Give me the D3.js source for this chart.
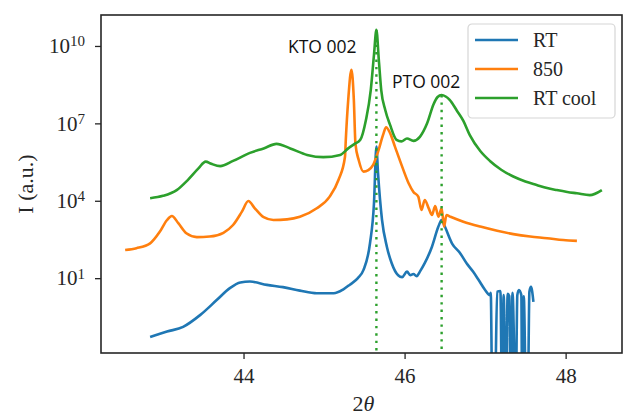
<!DOCTYPE html>
<html>
<head>
<meta charset="utf-8">
<script src="https://cdn.jsdelivr.net/npm/d3@7"></script>
<style>
  body { margin: 0; background: #fff; }
  svg text { font-family: "Liberation Serif", "DejaVu Serif", serif; fill: #262626; }
  svg text.note { font-family: "Open Sans", "Noto Sans", sans-serif; fill: #111; }
</style>
</head>
<body>
<script>

// --- data (2theta in degrees, intensity in a.u.) ---

var rtAngle = [42.84, 43.05, 43.25, 43.46, 43.67, 43.83, 43.96, 44.08, 44.29, 44.49,
  44.70, 44.91, 45.12, 45.24, 45.32, 45.42, 45.49, 45.57, 45.62, 45.65, 45.67,
  45.72, 45.78, 45.84, 45.92, 45.97, 46.03, 46.07, 46.11, 46.15, 46.19,
  46.25, 46.34, 46.42, 46.46, 46.50, 46.59, 46.69, 46.77, 46.85, 46.92,
  47.00, 47.06, 47.07, 47.09, 47.12, 47.15, 47.19, 47.21, 47.23, 47.26,
  47.28, 47.30, 47.32, 47.34, 47.38, 47.40, 47.42, 47.45, 47.46, 47.48,
  47.51, 47.53, 47.55, 47.57, 47.60];
var rtIntensity = [0.052, 0.085, 0.13, 0.37, 1.45, 4.1, 6.8, 7.4, 5.5, 4.5,
  3.3, 2.6, 2.6, 3.7, 5.6, 10, 21, 220, 8000, 1.26e6, 1.2e5,
  1800, 166, 38, 13, 11, 18, 13, 14.5, 12, 18,
  38, 166, 1000, 1800, 1000, 220, 93, 38, 18, 8.5,
  3.5, 2.2, 2.7, 0, 0, 3.0, 3.2, 0, 2.2, 0,
  2.5, 2.0, 0, 2.7, 0, 2.2, 3.5, 2.2, 0, 2.0,
  0, 0, 3.0, 4.6, 1.2];

var hotAngle = [42.53, 42.67, 42.84, 42.96, 43.05, 43.11, 43.19, 43.29, 43.42, 43.58,
  43.75, 43.87, 43.98, 44.06, 44.14, 44.25, 44.37, 44.54, 44.70, 44.91,
  45.07, 45.18, 45.26, 45.27, 45.30, 45.34, 45.37, 45.39, 45.43, 45.49,
  45.55, 45.61, 45.67, 45.74, 45.77, 45.82, 45.88, 45.97, 46.05, 46.11,
  46.17, 46.21, 46.25, 46.30, 46.34, 46.38, 46.42, 46.46, 46.49, 46.52,
  46.57, 46.73, 46.94, 47.15, 47.35, 47.56, 47.77, 47.97, 48.14];
var hotIntensity = [123, 145, 224, 630, 1800, 2570, 1350, 550, 390, 410,
  575, 1150, 3800, 9800, 5100, 2300, 1800, 1900, 2400, 5100,
  1.45e4, 6.5e4, 5.1e5, 2.3e6, 8e7, 1.2e9, 8e7, 1.6e6, 3.8e5, 1.35e5,
  1.55e5, 2.45e5, 7.9e5, 4.2e6, 7.1e6, 4.2e6, 1.26e6, 2.1e5, 4.8e4, 2.2e4,
  1.45e4, 4400, 1.07e4, 5100, 2800, 6300, 2400, 5100, 1000, 2800,
  2400, 1550, 1000, 690, 510, 410, 355, 300, 280];

var coolAngle = [42.84, 43.00, 43.17, 43.31, 43.44, 43.53, 43.60, 43.71, 43.87, 44.08,
  44.25, 44.41, 44.58, 44.79, 44.99, 45.20, 45.30, 45.38, 45.45, 45.52, 45.58,
  45.62, 45.65, 45.68, 45.71, 45.76, 45.82, 45.90, 45.96, 46.03, 46.11,
  46.19, 46.28, 46.36, 46.41, 46.46, 46.51, 46.56, 46.65, 46.73, 46.81, 46.94, 47.06,
  47.20, 47.35, 47.50, 47.64, 47.77, 47.89, 48.02, 48.14, 48.30, 48.45];
var coolIntensity = [1.26e4, 1.55e4, 2.6e4, 6.5e4, 1.8e5, 3.3e5, 2.7e5, 2.2e5, 3.5e5, 7.2e5,
  1.07e6, 1.6e6, 1.07e6, 6e5, 4.9e5, 6e5, 1.07e6, 1.6e6, 2.3e6, 1.35e7, 1.95e8,
  4.5e9, 4.2e10, 2.9e9, 1.95e8, 3.3e7, 8.7e6, 2.3e6, 2.0e6, 2.6e6, 2.1e6,
  3e6, 1e7, 5.5e7, 1.05e8, 1.26e8, 1.1e8, 8.1e7, 3.1e7, 1.26e7, 3.5e6, 8.5e5, 3.5e5,
  1.6e5, 8.7e4, 5.6e4, 4.1e4, 3.1e4, 2.6e4, 2.2e4, 1.95e4, 1.66e4, 2.6e4];

var seriesNames = ["RT", "850", "RT cool"];
var peakAngles = [45.65, 46.46];
var peakLabels = ["KTO 002", "PTO 002"];
var xTicks = [44, 46, 48];
var yTicks = [1e1, 1e4, 1e7, 1e10];

// --- layout ---

var width = 623, height = 416;
var plotLeft = 101, plotRight = 622, plotTop = 15, plotBottom = 353;
var colors = ["#1f77b4", "#ff7f0e", "#2ca02c"];

var svg = d3.select("body").append("svg")
  .attr("width", width)
  .attr("height", height);

var x = d3.scaleLinear().domain([42.23, 48.70]).range([plotLeft, plotRight]);
var y = d3.scaleLog().domain([Math.pow(10, -1.9), Math.pow(10, 11.2)]).range([plotBottom, plotTop]);
var floor = y.domain()[0] / 100;   // zero counts drop off the bottom of a log axis

svg.append("clipPath").attr("id", "plotArea")
  .append("rect")
    .attr("x", plotLeft).attr("y", plotTop)
    .attr("width", plotRight - plotLeft).attr("height", plotBottom - plotTop);

var line = d3.line()
  .curve(d3.curveMonotoneX)
  .x(function(d) { return x(d[0]); })
  .y(function(d) { return y(Math.max(d[1], floor)); });

var series = [d3.zip(rtAngle, rtIntensity), d3.zip(hotAngle, hotIntensity), d3.zip(coolAngle, coolIntensity)];

var plot = svg.append("g").attr("clip-path", "url(#plotArea)");

series.forEach(function(s, i) {
  plot.append("path")
    .datum(s)
    .attr("d", line)
    .attr("fill", "none")
    .attr("stroke", colors[i])
    .attr("stroke-width", 2.6)
    .attr("stroke-linejoin", "round");
});

// dotted markers from the RT cool peaks down to the axis
peakAngles.forEach(function(a) {
  var i = d3.minIndex(coolAngle, function(c) { return Math.abs(c - a); });
  plot.append("line")
    .attr("x1", x(a)).attr("x2", x(a))
    .attr("y1", y(coolIntensity[i])).attr("y2", plotBottom)
    .attr("stroke", colors[2])
    .attr("stroke-width", 2.4)
    .attr("stroke-dasharray", "2.4,5");
});

// axes
var xAxis = svg.append("g")
  .attr("transform", "translate(0," + plotBottom + ")")
  .call(d3.axisBottom(x).tickValues(xTicks).tickSize(6).tickPadding(9).tickFormat(d3.format("d")));
xAxis.select(".domain").remove();
xAxis.selectAll("text").style("font-size", "21px");

var yAxis = svg.append("g")
  .attr("transform", "translate(" + plotLeft + ",0)")
  .call(d3.axisLeft(y).tickValues(yTicks).tickSize(6).tickPadding(10).tickFormat(function() { return ""; }));
yAxis.select(".domain").remove();
yAxis.selectAll(".tick text")
  .style("font-size", "21px")
  .each(function(d) {
    var t = d3.select(this);
    t.append("tspan").text("10");
    t.append("tspan")
      .attr("dy", "-0.45em")
      .style("font-size", "15px")
      .text(Math.round(Math.log10(d)));
  });

svg.selectAll(".tick line").attr("stroke", "#262626").attr("stroke-width", 1.3);

svg.append("rect")
  .attr("x", plotLeft).attr("y", plotTop)
  .attr("width", plotRight - plotLeft).attr("height", plotBottom - plotTop)
  .attr("fill", "none")
  .attr("stroke", "#262626")
  .attr("stroke-width", 1.6);

// axis titles
svg.append("text")
  .attr("transform", "translate(33," + (plotTop + plotBottom) / 2 + ") rotate(-90)")
  .attr("text-anchor", "middle")
  .style("font-size", "22px")
  .text("I (a.u.)");

var xTitle = svg.append("text")
  .attr("x", (plotLeft + plotRight) / 2 + 2)
  .attr("y", 411)
  .attr("text-anchor", "middle")
  .style("font-size", "22px");
xTitle.append("tspan").text("2");
xTitle.append("tspan").style("font-style", "italic").text("θ");

// peak annotations
svg.append("text").attr("class", "note")
  .attr("x", 288).attr("y", 53)
  .style("font-size", "17.5px")
  .text(peakLabels[0]);
svg.append("text").attr("class", "note")
  .attr("x", 392).attr("y", 88)
  .style("font-size", "17.5px")
  .text(peakLabels[1]);

// legend
var legend = svg.append("g").attr("transform", "translate(468,24)");
legend.append("rect")
  .attr("width", 147).attr("height", 94)
  .attr("rx", 4)
  .attr("fill", "#fff")
  .attr("fill-opacity", 0.8)
  .attr("stroke", "#d6d6d6")
  .attr("stroke-width", 1.2);

seriesNames.forEach(function(name, i) {
  var row = legend.append("g").attr("transform", "translate(0," + (16 + i * 29) + ")");
  row.append("line")
    .attr("x1", 7).attr("x2", 50)
    .attr("stroke", colors[i])
    .attr("stroke-width", 2.6);
  row.append("text")
    .attr("x", 65).attr("y", 6.5)
    .style("font-size", "20px")
    .text(name);
});

</script>
</body>
</html>
